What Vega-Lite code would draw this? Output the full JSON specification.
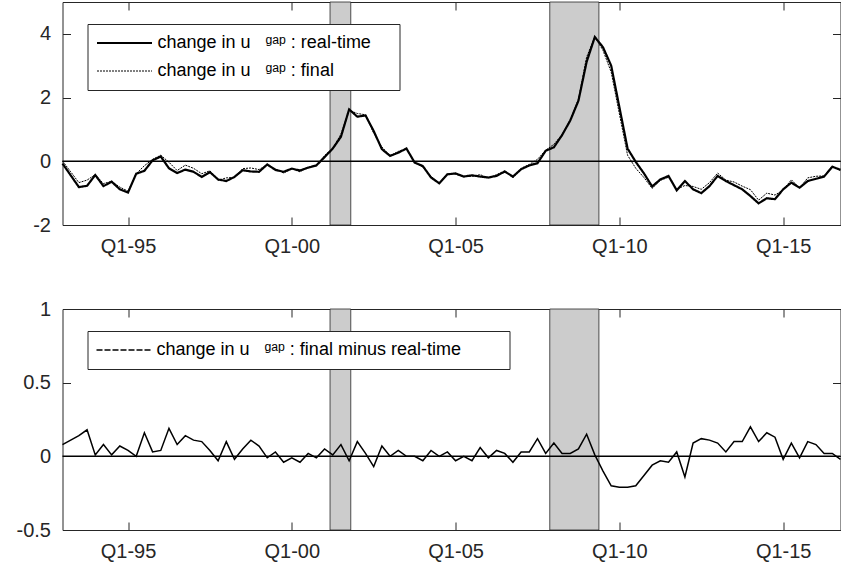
{
  "$schema": "https://vega.github.io/schema/vega-lite/v6.json",
  "padding": {"left": 15.5, "top": 1, "right": 0, "bottom": 0},
  "spacing": 41,
  "datasets": {
    "rec": [
      {"start": 2001.167, "end": 2001.8},
      {"start": 2007.875, "end": 2009.375}
    ],
    "q": [
      {"t": 1993.00, "rt": -0.07, "fin": 0.01, "d": 0.08},
      {"t": 1993.25, "rt": -0.44, "fin": -0.33, "d": 0.11},
      {"t": 1993.50, "rt": -0.81, "fin": -0.67, "d": 0.14},
      {"t": 1993.75, "rt": -0.77, "fin": -0.59, "d": 0.18},
      {"t": 1994.00, "rt": -0.43, "fin": -0.42, "d": 0.01},
      {"t": 1994.25, "rt": -0.78, "fin": -0.70, "d": 0.08},
      {"t": 1994.50, "rt": -0.64, "fin": -0.63, "d": 0.01},
      {"t": 1994.75, "rt": -0.88, "fin": -0.81, "d": 0.07},
      {"t": 1995.00, "rt": -0.98, "fin": -0.94, "d": 0.04},
      {"t": 1995.25, "rt": -0.39, "fin": -0.39, "d": 0.00},
      {"t": 1995.50, "rt": -0.30, "fin": -0.14, "d": 0.16},
      {"t": 1995.75, "rt": 0.03, "fin": 0.06, "d": 0.03},
      {"t": 1996.00, "rt": 0.15, "fin": 0.19, "d": 0.04},
      {"t": 1996.25, "rt": -0.22, "fin": -0.03, "d": 0.19},
      {"t": 1996.50, "rt": -0.37, "fin": -0.29, "d": 0.08},
      {"t": 1996.75, "rt": -0.26, "fin": -0.12, "d": 0.14},
      {"t": 1997.00, "rt": -0.33, "fin": -0.22, "d": 0.11},
      {"t": 1997.25, "rt": -0.49, "fin": -0.39, "d": 0.10},
      {"t": 1997.50, "rt": -0.34, "fin": -0.30, "d": 0.04},
      {"t": 1997.75, "rt": -0.57, "fin": -0.60, "d": -0.03},
      {"t": 1998.00, "rt": -0.62, "fin": -0.52, "d": 0.10},
      {"t": 1998.25, "rt": -0.49, "fin": -0.51, "d": -0.02},
      {"t": 1998.50, "rt": -0.28, "fin": -0.23, "d": 0.05},
      {"t": 1998.75, "rt": -0.32, "fin": -0.21, "d": 0.11},
      {"t": 1999.00, "rt": -0.33, "fin": -0.26, "d": 0.07},
      {"t": 1999.25, "rt": -0.10, "fin": -0.11, "d": -0.01},
      {"t": 1999.50, "rt": -0.27, "fin": -0.24, "d": 0.03},
      {"t": 1999.75, "rt": -0.33, "fin": -0.37, "d": -0.04},
      {"t": 2000.00, "rt": -0.23, "fin": -0.24, "d": -0.01},
      {"t": 2000.25, "rt": -0.29, "fin": -0.33, "d": -0.04},
      {"t": 2000.50, "rt": -0.20, "fin": -0.18, "d": 0.02},
      {"t": 2000.75, "rt": -0.13, "fin": -0.14, "d": -0.01},
      {"t": 2001.00, "rt": 0.13, "fin": 0.18, "d": 0.05},
      {"t": 2001.25, "rt": 0.40, "fin": 0.41, "d": 0.01},
      {"t": 2001.50, "rt": 0.77, "fin": 0.85, "d": 0.08},
      {"t": 2001.75, "rt": 1.63, "fin": 1.60, "d": -0.03},
      {"t": 2002.00, "rt": 1.40, "fin": 1.50, "d": 0.10},
      {"t": 2002.25, "rt": 1.44, "fin": 1.46, "d": 0.02},
      {"t": 2002.50, "rt": 0.95, "fin": 0.88, "d": -0.07},
      {"t": 2002.75, "rt": 0.38, "fin": 0.45, "d": 0.07},
      {"t": 2003.00, "rt": 0.17, "fin": 0.17, "d": 0.00},
      {"t": 2003.25, "rt": 0.27, "fin": 0.31, "d": 0.04},
      {"t": 2003.50, "rt": 0.40, "fin": 0.40, "d": 0.00},
      {"t": 2003.75, "rt": -0.04, "fin": -0.04, "d": 0.00},
      {"t": 2004.00, "rt": -0.15, "fin": -0.18, "d": -0.03},
      {"t": 2004.25, "rt": -0.51, "fin": -0.47, "d": 0.04},
      {"t": 2004.50, "rt": -0.69, "fin": -0.69, "d": 0.00},
      {"t": 2004.75, "rt": -0.41, "fin": -0.38, "d": 0.03},
      {"t": 2005.00, "rt": -0.38, "fin": -0.41, "d": -0.03},
      {"t": 2005.25, "rt": -0.48, "fin": -0.48, "d": 0.00},
      {"t": 2005.50, "rt": -0.44, "fin": -0.47, "d": -0.03},
      {"t": 2005.75, "rt": -0.48, "fin": -0.42, "d": 0.06},
      {"t": 2006.00, "rt": -0.51, "fin": -0.52, "d": -0.01},
      {"t": 2006.25, "rt": -0.46, "fin": -0.42, "d": 0.04},
      {"t": 2006.50, "rt": -0.32, "fin": -0.30, "d": 0.02},
      {"t": 2006.75, "rt": -0.48, "fin": -0.52, "d": -0.04},
      {"t": 2007.00, "rt": -0.25, "fin": -0.22, "d": 0.03},
      {"t": 2007.25, "rt": -0.13, "fin": -0.10, "d": 0.03},
      {"t": 2007.50, "rt": -0.06, "fin": 0.06, "d": 0.12},
      {"t": 2007.75, "rt": 0.33, "fin": 0.35, "d": 0.02},
      {"t": 2008.00, "rt": 0.44, "fin": 0.53, "d": 0.09},
      {"t": 2008.25, "rt": 0.82, "fin": 0.84, "d": 0.02},
      {"t": 2008.50, "rt": 1.28, "fin": 1.30, "d": 0.02},
      {"t": 2008.75, "rt": 1.90, "fin": 1.95, "d": 0.05},
      {"t": 2009.00, "rt": 3.12, "fin": 3.27, "d": 0.15},
      {"t": 2009.25, "rt": 3.90, "fin": 3.91, "d": 0.01},
      {"t": 2009.50, "rt": 3.58, "fin": 3.48, "d": -0.10},
      {"t": 2009.75, "rt": 3.00, "fin": 2.80, "d": -0.20},
      {"t": 2010.00, "rt": 1.70, "fin": 1.49, "d": -0.21},
      {"t": 2010.25, "rt": 0.40, "fin": 0.19, "d": -0.21},
      {"t": 2010.50, "rt": -0.02, "fin": -0.22, "d": -0.20},
      {"t": 2010.75, "rt": -0.38, "fin": -0.51, "d": -0.13},
      {"t": 2011.00, "rt": -0.79, "fin": -0.85, "d": -0.06},
      {"t": 2011.25, "rt": -0.57, "fin": -0.60, "d": -0.03},
      {"t": 2011.50, "rt": -0.46, "fin": -0.50, "d": -0.04},
      {"t": 2011.75, "rt": -0.91, "fin": -0.88, "d": 0.03},
      {"t": 2012.00, "rt": -0.62, "fin": -0.76, "d": -0.14},
      {"t": 2012.25, "rt": -0.88, "fin": -0.79, "d": 0.09},
      {"t": 2012.50, "rt": -1.00, "fin": -0.88, "d": 0.12},
      {"t": 2012.75, "rt": -0.78, "fin": -0.67, "d": 0.11},
      {"t": 2013.00, "rt": -0.46, "fin": -0.37, "d": 0.09},
      {"t": 2013.25, "rt": -0.62, "fin": -0.59, "d": 0.03},
      {"t": 2013.50, "rt": -0.75, "fin": -0.65, "d": 0.10},
      {"t": 2013.75, "rt": -0.88, "fin": -0.78, "d": 0.10},
      {"t": 2014.00, "rt": -1.09, "fin": -0.89, "d": 0.20},
      {"t": 2014.25, "rt": -1.32, "fin": -1.22, "d": 0.10},
      {"t": 2014.50, "rt": -1.16, "fin": -1.00, "d": 0.16},
      {"t": 2014.75, "rt": -1.19, "fin": -1.06, "d": 0.13},
      {"t": 2015.00, "rt": -0.88, "fin": -0.90, "d": -0.02},
      {"t": 2015.25, "rt": -0.67, "fin": -0.58, "d": 0.09},
      {"t": 2015.50, "rt": -0.83, "fin": -0.84, "d": -0.01},
      {"t": 2015.75, "rt": -0.62, "fin": -0.52, "d": 0.10},
      {"t": 2016.00, "rt": -0.55, "fin": -0.47, "d": 0.08},
      {"t": 2016.25, "rt": -0.48, "fin": -0.46, "d": 0.02},
      {"t": 2016.50, "rt": -0.17, "fin": -0.15, "d": 0.02},
      {"t": 2016.75, "rt": -0.27, "fin": -0.29, "d": -0.02}
    ]
  },
  "resolve": {
    "scale": {"x": "independent", "y": "independent", "strokeDash": "independent", "strokeWidth": "independent", "color": "independent"},
    "legend": {"strokeDash": "independent", "strokeWidth": "independent", "color": "independent"}
  },
  "vconcat": [
    {
      "width": 778,
      "height": 223,
      "layer": [
        {
          "data": {"name": "rec"},
          "mark": {"type": "rect", "fill": "#cccccc", "stroke": "#262626", "strokeWidth": 0.8},
          "encoding": {
            "x": {"field": "start", "type": "quantitative",
              "scale": {"domain": [1993, 2016.75], "nice": false, "zero": false},
              "axis": {"orient": "bottom", "values": [1995, 2000, 2005, 2010, 2015], "labelExpr": "'Q1-' + substring(toString(datum.value), 2, 4)", "tickSize": -8, "labelPadding": 19, "labelFlush": false, "labelDx": -5, "title": null}},
            "x2": {"field": "end"},
            "y": {"datum": -2, "type": "quantitative",
              "scale": {"domain": [-2, 5], "nice": false, "zero": false},
              "axis": {"orient": "left", "values": [-2, 0, 2, 4], "labelExpr": "toString(datum.value)", "tickSize": -8, "labelPadding": 20, "labelFlush": false, "title": null}},
            "y2": {"datum": 5}
          }
        },
        {
          "data": {"values": [{}]},
          "mark": {"type": "rule", "color": "black", "strokeWidth": 1.5},
          "encoding": {"y": {"datum": 0, "type": "quantitative", "axis": null}}
        },
        {
          "data": {"name": "q"},
          "transform": [{"fold": ["fin", "rt"], "as": ["series", "value"]}],
          "mark": {"type": "line", "color": "black"},
          "encoding": {
            "x": {"field": "t", "type": "quantitative",
              "axis": {"orient": "top", "values": [1995, 2000, 2005, 2010, 2015], "labels": false, "tickSize": -8, "title": null}},
            "y": {"field": "value", "type": "quantitative",
              "axis": {"orient": "right", "values": [-2, 0, 2, 4], "labels": false, "tickSize": -8, "title": null}},
            "strokeDash": {"field": "series", "type": "nominal",
              "scale": {"domain": ["rt", "fin"], "range": [[1, 0], [2, 1]]},
              "legend": {"orient": "none", "legendX": 25, "legendY": 22,
                "labelExpr": "datum.label == 'rt' ? 'change in u\u00a0\u00a0\u00a0\u1d4d\u1d43\u1d56\u00a0: real-time\u00a0\u00a0\u00a0\u00a0\u200b' : 'change in u\u00a0\u00a0\u00a0\u1d4d\u1d43\u1d56\u00a0: final'"}},
            "strokeWidth": {"field": "series", "type": "nominal",
              "scale": {"domain": ["rt", "fin"], "range": [2.2, 1]},
              "legend": {"orient": "none", "legendX": 25, "legendY": 22,
                "labelExpr": "datum.label == 'rt' ? 'change in u\u00a0\u00a0\u00a0\u1d4d\u1d43\u1d56\u00a0: real-time\u00a0\u00a0\u00a0\u00a0\u200b' : 'change in u\u00a0\u00a0\u00a0\u1d4d\u1d43\u1d56\u00a0: final'"}}
          }
        }
      ]
    },
    {
      "width": 778,
      "height": 221,
      "layer": [
        {
          "data": {"name": "rec"},
          "mark": {"type": "rect", "fill": "#cccccc", "stroke": "#262626", "strokeWidth": 0.8},
          "encoding": {
            "x": {"field": "start", "type": "quantitative",
              "scale": {"domain": [1993, 2016.75], "nice": false, "zero": false},
              "axis": {"orient": "bottom", "values": [1995, 2000, 2005, 2010, 2015], "labelExpr": "'Q1-' + substring(toString(datum.value), 2, 4)", "tickSize": -8, "labelPadding": 19, "labelFlush": false, "labelDx": -5, "title": null}},
            "x2": {"field": "end"},
            "y": {"datum": -0.5, "type": "quantitative",
              "scale": {"domain": [-0.5, 1], "nice": false, "zero": false},
              "axis": {"orient": "left", "values": [-0.5, 0, 0.5, 1], "labelExpr": "toString(datum.value)", "tickSize": -8, "labelPadding": 20, "labelFlush": false, "title": null}},
            "y2": {"datum": 1}
          }
        },
        {
          "data": {"values": [{}]},
          "mark": {"type": "rule", "color": "black", "strokeWidth": 1.5},
          "encoding": {"y": {"datum": 0, "type": "quantitative", "axis": null}}
        },
        {
          "data": {"name": "q"},
          "transform": [{"fold": ["d"], "as": ["series", "value"]}],
          "mark": {"type": "line", "strokeWidth": 1.5},
          "encoding": {
            "x": {"field": "t", "type": "quantitative",
              "axis": {"orient": "top", "values": [1995, 2000, 2005, 2010, 2015], "labels": false, "tickSize": -8, "title": null}},
            "y": {"field": "value", "type": "quantitative",
              "axis": {"orient": "right", "values": [-0.5, 0, 0.5, 1], "labels": false, "tickSize": -8, "title": null}},
            "color": {"field": "series", "type": "nominal",
              "scale": {"domain": ["d"], "range": ["black"]},
              "legend": {"orient": "none", "legendX": 25, "legendY": 22, "symbolDash": [6, 2], "symbolStrokeWidth": 1.5,
                "labelExpr": "'change in u\u00a0\u00a0\u00a0\u1d4d\u1d43\u1d56\u00a0: final minus real-time\u00a0\u00a0\u00a0\u00a0\u00a0\u00a0\u00a0\u00a0\u200b'"}}
          }
        }
      ]
    }
  ],
  "config": {
    "font": "Liberation Sans",
    "view": {"stroke": "#262626", "strokeWidth": 1},
    "axis": {"domain": false, "grid": false, "tickColor": "#262626", "tickWidth": 1, "labelColor": "#262626", "labelFont": "Liberation Sans", "labelFontSize": 20},
    "legend": {"title": null, "fillColor": "white", "strokeColor": "#262626", "padding": 8, "clipHeight": 22, "rowPadding": 6, "labelFont": "Liberation Sans", "labelFontSize": 18, "labelColor": "black", "symbolType": "stroke", "symbolSize": 3025, "labelOffset": 4, "symbolStrokeColor": "black", "labelLimit": 500}
  }
}
